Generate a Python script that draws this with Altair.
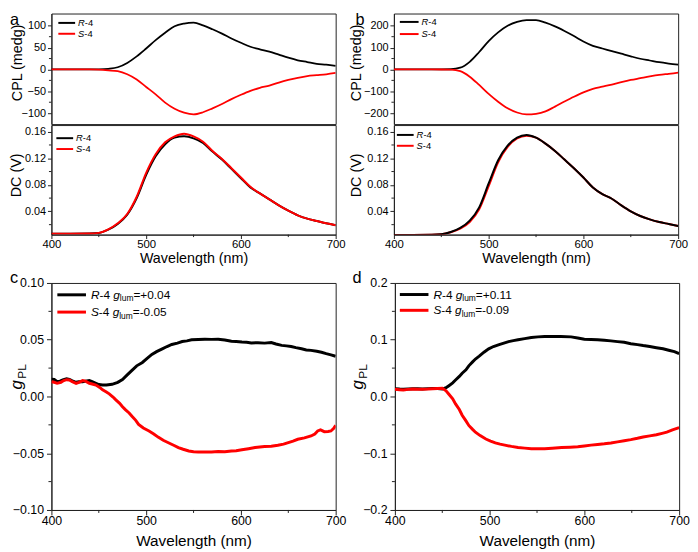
import altair as alt
import pandas as pd

FONT = "Liberation Sans"
BLACK = "#000000"
RED = "#ff0000"
FRAME = "#222222"

# ---------------- data ----------------
wl_cpl = [400, 420, 440, 450, 460, 470, 480, 490, 500, 510, 520, 530, 540, 550, 560,
          570, 580, 590, 600, 610, 620, 630, 640, 650, 660, 670, 680, 690, 700]
cpl_a_R = [0, 0, 0, 0.3, 1.5, 5, 15, 30, 48, 67, 84, 99, 105, 107, 101,
           92, 82, 71, 61, 52, 46, 41, 34, 27, 21, 17, 13, 11, 8]
cpl_a_S = [0, 0, 0, -0.5, -2, -4, -11, -23, -40, -57, -76, -90, -99, -103, -98,
           -89, -79, -68, -58, -49, -42, -37, -30, -24, -19, -15, -13, -11, -8]
cpl_b_R = [0, 0, 0, 0.2, 1, 8, 35, 80, 130, 170, 200, 218, 226, 226, 214,
           197, 176, 153, 128, 108, 96, 84, 72, 60, 49, 41, 33, 27, 22]
cpl_b_S = [0, 0, 0, -0.2, -1, -8, -33, -71, -112, -148, -178, -197, -206, -203, -192,
           -170, -147, -125, -105, -89, -79, -69, -58, -48, -40, -32, -25, -20, -15]

wl_dc = wl_cpl
dc_a_R = [0.0065, 0.0065, 0.0067, 0.0075, 0.0125, 0.021, 0.035, 0.060, 0.095, 0.123, 0.141, 0.151, 0.153, 0.150, 0.143,
          0.130, 0.118, 0.104, 0.090, 0.076, 0.067, 0.058, 0.049, 0.041, 0.034, 0.029, 0.0255, 0.022, 0.019]
dc_a_S = [0.0065, 0.0065, 0.0067, 0.0076, 0.0128, 0.022, 0.036, 0.062, 0.098, 0.126, 0.144, 0.153, 0.157, 0.153, 0.145,
          0.131, 0.119, 0.105, 0.091, 0.077, 0.067, 0.058, 0.049, 0.041, 0.034, 0.029, 0.0255, 0.022, 0.019]
dc_b_R = [0.0045, 0.0045, 0.0047, 0.0055, 0.009, 0.015, 0.026, 0.046, 0.082, 0.117, 0.139, 0.151, 0.155, 0.151, 0.142,
          0.131, 0.118, 0.105, 0.091, 0.076, 0.066, 0.059, 0.049, 0.040, 0.033, 0.028, 0.024, 0.021, 0.018]
dc_b_S = [0.0045, 0.0045, 0.0047, 0.0054, 0.0085, 0.014, 0.024, 0.043, 0.078, 0.114, 0.137, 0.150, 0.154, 0.151, 0.142,
          0.131, 0.118, 0.105, 0.091, 0.076, 0.066, 0.059, 0.049, 0.040, 0.033, 0.028, 0.024, 0.021, 0.018]

wl_c_R = [400, 403, 406, 409, 412, 416, 419, 422, 426, 429, 433, 436, 440, 443, 447, 450, 454, 458, 464, 470,
          475, 480, 485, 490, 496, 501, 506, 511, 517, 522, 527, 533, 538, 543, 548, 555, 562, 569, 576, 583,
          590, 595, 601, 606, 611, 618, 625, 632, 637, 643, 648, 653, 658, 664, 669, 674, 680, 685, 690, 695, 700]
g_c_R = [0.0151, 0.015, 0.013, 0.0135, 0.0145, 0.0155, 0.015, 0.0138, 0.0125, 0.013, 0.013, 0.0135, 0.014, 0.013,
         0.0116, 0.0105, 0.0101, 0.0102, 0.0107, 0.0125, 0.015, 0.019, 0.023, 0.027, 0.030, 0.0335, 0.037, 0.0395,
         0.042, 0.044, 0.0458, 0.047, 0.0484, 0.049, 0.0499, 0.0502, 0.0504, 0.0503, 0.0504, 0.0498, 0.0487,
         0.0485, 0.048, 0.0478, 0.0472, 0.0474, 0.047, 0.0475, 0.0462, 0.045, 0.0446, 0.044, 0.043, 0.042, 0.041,
         0.0406, 0.0398, 0.039, 0.0378, 0.0367, 0.0354]
wl_c_S = [400, 403, 406, 410, 413, 416, 419, 422, 426, 429, 433, 436, 440, 443, 447, 451, 454, 458, 461, 465,
          468, 472, 475, 478, 482, 485, 489, 492, 497, 503, 508, 513, 518, 524, 529, 534, 539, 545, 550, 555,
          562, 569, 576, 583, 590, 595, 601, 608, 615, 620, 625, 632, 639, 645, 650, 655, 660, 667, 674, 678,
          681, 684, 688, 692, 695, 698, 700]
g_c_S = [0.013, 0.0125, 0.0116, 0.0125, 0.014, 0.0148, 0.0145, 0.013, 0.0116, 0.0125, 0.014, 0.0135, 0.0116,
         0.011, 0.0101, 0.008, 0.0058, 0.004, 0.0023, -0.0005, -0.003, -0.006, -0.009, -0.0116, -0.0145,
         -0.0174, -0.021, -0.0246, -0.0278, -0.0304, -0.033, -0.036, -0.0386, -0.041, -0.043, -0.045, -0.0465,
         -0.048, -0.0487, -0.049, -0.049, -0.049, -0.0485, -0.0487, -0.048, -0.0478, -0.047, -0.046, -0.045,
         -0.0445, -0.044, -0.0438, -0.043, -0.042, -0.0406, -0.0393, -0.0377, -0.0365, -0.0348, -0.033,
         -0.0304, -0.0295, -0.031, -0.0308, -0.0304, -0.028, -0.0255]

wl_d_R = [400, 405, 409, 414, 419, 424, 429, 435, 440, 445, 450, 454, 457, 461, 464, 468, 471, 475, 478, 482,
          485, 489, 494, 499, 504, 510, 515, 520, 525, 530, 537, 544, 551, 558, 566, 575, 586, 593, 600, 607,
          614, 621, 628, 635, 642, 649, 656, 662, 669, 676, 683, 690, 695, 700]
g_d_R = [0.0137, 0.013, 0.0126, 0.0132, 0.0137, 0.0135, 0.0131, 0.0138, 0.0143, 0.014, 0.0131, 0.0154, 0.019,
         0.024, 0.029, 0.0354, 0.041, 0.047, 0.054, 0.061, 0.066, 0.071, 0.078, 0.084, 0.088, 0.0914, 0.094,
         0.0966, 0.0985, 0.100, 0.102, 0.104, 0.105, 0.1057, 0.1058, 0.1057, 0.105, 0.103, 0.101, 0.1005, 0.100,
         0.099, 0.098, 0.0967, 0.0954, 0.093, 0.0914, 0.0897, 0.088, 0.086, 0.084, 0.081, 0.079, 0.0754]
wl_d_S = [400, 405, 409, 414, 419, 424, 429, 435, 440, 445, 450, 454, 457, 461, 464, 468, 471, 475, 478, 482,
          485, 490, 496, 501, 506, 511, 516, 523, 530, 537, 544, 551, 558, 566, 576, 585, 593, 600, 607, 614,
          621, 628, 635, 642, 649, 656, 662, 669, 676, 682, 687, 693, 700]
g_d_S = [0.0126, 0.012, 0.0114, 0.0125, 0.0131, 0.0128, 0.0126, 0.013, 0.0137, 0.0142, 0.0143, 0.010, 0.004,
         -0.004, -0.013, -0.023, -0.033, -0.043, -0.051, -0.058, -0.063, -0.069, -0.075, -0.0785, -0.0817,
         -0.084, -0.0857, -0.088, -0.090, -0.091, -0.092, -0.0922, -0.092, -0.0912, -0.090, -0.0893, -0.0886,
         -0.0872, -0.0857, -0.0845, -0.0834, -0.082, -0.080, -0.078, -0.076, -0.0737, -0.0714, -0.0694,
         -0.0674, -0.065, -0.0629, -0.059, -0.0549]

x_ticks = [400, 500, 600, 700]
x_minor = [450, 550, 650]
cpl_a_ticks = [-100, -50, 0, 50, 100]
cpl_a_minor = [-75, -25, 25, 75]
cpl_b_ticks = [-200, -100, 0, 100, 200]
cpl_b_minor = [-150, -50, 50, 150]
dc_ticks = [0.04, 0.08, 0.12, 0.16]
dc_minor = [0.02, 0.06, 0.10, 0.14]
g_c_ticks = [-0.10, -0.05, 0.0, 0.05, 0.10]
g_c_minor = [-0.075, -0.025, 0.025, 0.075]
g_d_ticks = [-0.2, -0.1, 0.0, 0.1, 0.2]
g_d_minor = [-0.15, -0.05, 0.05, 0.15]

x_title = "Wavelength (nm)"
cpl_title = "CPL (medg)"
dc_title = "DC (V)"
leg_c = [("R", "-4 ", "+0.04"), ("S", "-4 ", "-0.05")]
leg_d = [("R", "-4 ", "+0.11"), ("S", "-4 ", "-0.09")]

# ---------------- helpers ----------------
W = {'R': 0.722, 'S': 0.667, '-': 0.333, '4': 0.556, ' ': 0.278, 'g': 0.556, 'l': 0.222,
     'u': 0.556, 'm': 0.833, '=': 0.584, '+': 0.584, '0': 0.556, '.': 0.278, '1': 0.556,
     '5': 0.556, '9': 0.556, 'P': 0.667, 'L': 0.556}


def tw(s, size):
    return sum(W.get(c, 0.556) for c in s) * size


ONE = pd.DataFrame({"k": [0]})


def txt(s, x, y, size, italic=False, angle=None, align="left", baseline="alphabetic"):
    kw = dict(text=s, fontSize=size, font=FONT, align=align, baseline=baseline,
              color=BLACK, fontStyle="italic" if italic else "normal")
    if angle is not None:
        kw["angle"] = angle
    return alt.Chart(ONE).mark_text(**kw).encode(x=alt.value(x), y=alt.value(y))


def runs(x0, y, pieces):
    out, x = [], x0
    for s, size, italic, dy in pieces:
        out.append(txt(s, x, y + dy, size, italic))
        x += tw(s, size)
    return out


def seg(x1, x2, y, color, sw):
    return alt.Chart(ONE).mark_rule(color=color, strokeWidth=sw).encode(
        x=alt.value(x1), x2=alt.value(x2), y=alt.value(y))


def anchor(x1, x2, y1, y2):
    # invisible element that fixes the layout extent of a panel
    return alt.Chart(ONE).mark_rule(opacity=0, strokeWidth=0.1).encode(
        x=alt.value(x1), x2=alt.value(x2), y=alt.value(y1), y2=alt.value(y2))


def series(wl, v, color, sw, xs, ys, xaxis, yaxis, interp):
    df = pd.DataFrame({"wl": wl, "v": v})
    return alt.Chart(df).mark_line(color=color, strokeWidth=sw, interpolate=interp, clip=True).encode(
        x=alt.X("wl:Q", scale=xs, axis=xaxis),
        y=alt.Y("v:Q", scale=ys, axis=yaxis))


def xminor(xs, xa, h, ln):
    return alt.Chart(pd.DataFrame({"wl": x_minor})).mark_rule(color=FRAME, strokeWidth=1).encode(
        x=alt.X("wl:Q", scale=xs, axis=xa), y=alt.value(h), y2=alt.value(h + ln))


def yminor(vals, ys, ya, ln):
    return alt.Chart(pd.DataFrame({"v": vals})).mark_rule(color=FRAME, strokeWidth=1).encode(
        y=alt.Y("v:Q", scale=ys, axis=ya), x=alt.value(0), x2=alt.value(-ln))


def yaxis(vals, fmt, lsize, tick, pad):
    return alt.Axis(values=vals, format=fmt, title=None, grid=False, labelFontSize=lsize,
                    tickSize=tick, labelPadding=pad, labelFlush=False, labelOverlap=False,
                    labelFont=FONT, labelColor=BLACK, domainColor=FRAME, tickColor=FRAME)


def xaxis(lsize, tsize, tick, pad, tpad):
    return alt.Axis(values=x_ticks, format="d", title=x_title, grid=False, labelFontSize=lsize,
                    titleFontSize=tsize, tickSize=tick, labelPadding=pad, titlePadding=tpad,
                    labelFlush=False, labelOverlap=False, labelFont=FONT, titleFont=FONT,
                    titleFontWeight="normal", labelColor=BLACK, titleColor=BLACK,
                    domainColor=FRAME, tickColor=FRAME)


xs = alt.Scale(domain=[400, 700], nice=False, zero=False)
PW = 288


# ---------------- top panels ----------------
def cpl_panel(R, S, dom, ticks, minor, letter, letter_x, title_x, leg, ext):
    ys = alt.Scale(domain=dom, nice=False, zero=False)
    ya = yaxis(ticks, "d", 11, 4, 2)
    lx1, lx2, ly1, ly2, tx = leg
    layers = [
        anchor(*ext),
        series(wl_cpl, R, BLACK, 1.8, xs, ys, None, ya, "monotone"),
        series(wl_cpl, S, RED, 1.8, xs, ys, None, ya, "monotone"),
        yminor(minor, ys, ya, 2.5),
        seg(lx1, lx2, ly1, BLACK, 2), seg(lx1, lx2, ly2, RED, 2),
    ]
    layers += runs(tx, ly1 + 3.3, [("R", 9.5, True, 0), ("-4", 9.5, False, 0)])
    layers += runs(tx, ly2 + 3.3, [("S", 9.5, True, 0), ("-4", 9.5, False, 0)])
    layers.append(txt(cpl_title, title_x, 50, 14.5, angle=270, align="center", baseline="middle"))
    layers.append(txt(letter, letter_x, 12, 16.5))
    return alt.layer(*layers).properties(width=PW, height=112)


def dc_panel(R, S, red_on_top, title_x, leg, ext):
    ys = alt.Scale(domain=[0.005, 0.17], nice=False, zero=False)
    ya = yaxis(dc_ticks, ".2f", 11, 4, 2)
    xa = xaxis(11.5, 14.5, 4, 0, 1.5)
    lR = series(wl_dc, R, BLACK, 2, xs, ys, xa, ya, "monotone")
    lS = series(wl_dc, S, RED, 2, xs, ys, xa, ya, "monotone")
    lx1, lx2, ly1, ly2, tx = leg
    layers = [anchor(*ext)]
    layers += [lR, lS] if red_on_top else [lS, lR]
    layers += [xminor(xs, xa, 111, 2.5), yminor(dc_minor, ys, ya, 2.5)]
    layers += [seg(lx1, lx2, ly1, BLACK, 2), seg(lx1, lx2, ly2, RED, 2)]
    layers += runs(tx, ly1 + 3.3, [("R", 9.5, True, 0), ("-4", 9.5, False, 0)])
    layers += runs(tx, ly2 + 3.3, [("S", 9.5, True, 0), ("-4", 9.5, False, 0)])
    layers.append(txt(dc_title, title_x, 51, 14.5, angle=270, align="center", baseline="middle"))
    return alt.layer(*layers).properties(width=PW, height=111)


a_cpl = cpl_panel(cpl_a_R, cpl_a_S, [-125, 128], cpl_a_ticks, cpl_a_minor, "a", -42, -34,
                  (7, 24, 9.5, 20.5, 27), (-43, 300, 0, 112))
b_cpl = cpl_panel(cpl_b_R, cpl_b_S, [-250, 256], cpl_b_ticks, cpl_b_minor, "b", -39, -37,
                  (6, 25, 8.5, 20.8, 28), (-45, 288, 0, 112))
a_dc = dc_panel(dc_a_R, dc_a_S, True, -35, (5, 22, 13.3, 24.3, 25), (-43, 300, 0, 143))
b_dc = dc_panel(dc_b_R, dc_b_S, False, -37, (3, 20, 10, 21, 23), (-45, 288, 0, 143))


# ---------------- bottom panels ----------------
def g_panel(wR, R, wS, S, dom, ticks, minor, fmt, letter, letter_x, legtexts, leg, ext, gx):
    ys = alt.Scale(domain=dom, nice=False, zero=False)
    ya = yaxis(ticks, fmt, 12.5, 5, 3)
    xa = xaxis(12.5, 15.5, 5, 0, 7)
    lx1, lx2, ly1, ly2, tx = leg
    layers = [
        anchor(*ext),
        series(wR, R, BLACK, 3, xs, ys, xa, ya, "linear"),
        series(wS, S, RED, 3, xs, ys, xa, ya, "linear"),
        xminor(xs, xa, 230, 3), yminor(minor, ys, ya, 3),
        seg(lx1, lx2, ly1, BLACK, 3), seg(lx1, lx2, ly2, RED, 3),
    ]
    for (first, mid, val), yy in zip(legtexts, (ly1, ly2)):
        layers += runs(tx, yy + 4.2, [(first, 12, True, 0), (mid, 12, False, 0), ("g", 12, True, 0),
                                       ("lum", 8.5, False, 2.5), ("=" + val, 12, False, 0)])
    # y title g_PL (rotated)
    layers.append(txt("g", gx, 108, 17, italic=True, angle=270))
    layers.append(txt("PL", gx + 4, 97, 12, angle=270))
    layers.append(txt(letter, letter_x, 0, 16.5))
    return alt.layer(*layers).properties(width=PW, height=230)


c = g_panel(wl_c_R, g_c_R, wl_c_S, g_c_S, [-0.1, 0.1], g_c_ticks, g_c_minor, ".2f", "c", -42, leg_c,
            (6, 35, 12, 29.5, 40), (-43, 300, -14, 230), -29.5)
d = g_panel(wl_d_R, g_d_R, wl_d_S, g_d_S, [-0.2, 0.2], g_d_ticks, g_d_minor, ".1f", "d", -43, leg_d,
            (5, 34, 11.7, 27.7, 39), (-46, 288, -14, 230), -32)

row1 = alt.hconcat(
    alt.vconcat(a_cpl, a_dc, spacing=-1),
    alt.vconcat(b_cpl, b_dc, spacing=-1),
    spacing=0)
row2 = alt.hconcat(c, d, spacing=0)

chart = alt.vconcat(row1, row2, spacing=1).properties(
    padding=0
).configure_view(stroke=FRAME, strokeWidth=1)

chart.save("out.html", embed_options={"renderer": "svg", "actions": False})
